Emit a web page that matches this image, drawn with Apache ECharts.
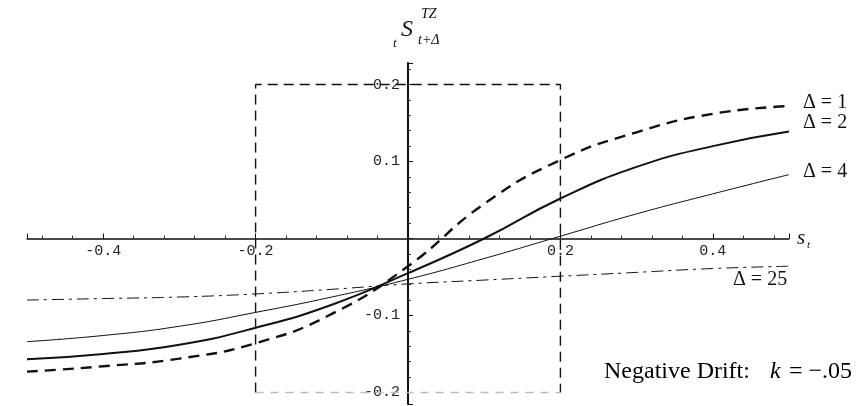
<!DOCTYPE html>
<html>
<head>
<meta charset="utf-8">
<script src="https://cdn.jsdelivr.net/npm/echarts@6/dist/echarts.min.js"></script>
<style>
  html, body { margin: 0; padding: 0; background: #fff; }
  #chart { width: 857px; height: 406px; }
</style>
</head>
<body>
<div id="chart"></div>
<script>
// State values s_t along the horizontal axis
const stateValues = [-0.5, -0.4, -0.3, -0.2, -0.1, 0, 0.1, 0.2, 0.3, 0.4, 0.5];

// Expected target-zone values for each horizon Δ
const delta1 = [-0.173, -0.166, -0.156, -0.136, -0.098, -0.036, 0.045, 0.102, 0.138, 0.162, 0.172];
const delta2 = [-0.157, -0.150, -0.138, -0.116, -0.086, -0.045, 0.000, 0.052, 0.093, 0.120, 0.139];
const delta4 = [-0.134, -0.126, -0.114, -0.096, -0.076, -0.053, -0.026, 0.003, 0.032, 0.058, 0.083];
const delta25 = [-0.080, -0.078, -0.076, -0.072, -0.066, -0.059, -0.054, -0.049, -0.044, -0.039, -0.036];

// Band limits drawn as the dashed box
const bandX = [-0.2, 0.2];
const bandY = [-0.2, 0.2];

// Tick labels shown on each axis
const xTickLabels = [-0.4, -0.2, 0.2, 0.4];
const yTickLabels = [-0.2, -0.1, 0.1, 0.2];

// Axis ranges
const xRange = [-0.5, 0.5];
const yRange = [-0.215, 0.228];

const W = 857, H = 406;
const gridBox = { left: 27, right: 68, top: 63, bottom: 2 };
const plotW = W - gridBox.left - gridBox.right;
const plotH = H - gridBox.top - gridBox.bottom;
// Shift the axes so they cross at the origin
const yAxisShift = -plotW * (0 - xRange[0]) / (xRange[1] - xRange[0]);
const xAxisShift = -plotH * (0 - yRange[0]) / (yRange[1] - yRange[0]);

const pair = (ys) => stateValues.map((x, i) => [x, ys[i]]);
const labelFor = (list) => (v) => {
  const hit = list.find((t) => Math.abs(t - v) < 1e-6);
  return hit === undefined ? '' : hit.toFixed(1);
};

const boxSides = [
  [bandX[0], bandY[0]], [bandX[0], bandY[1]],
  [bandX[1], bandY[1]], [bandX[1], bandY[0]]
];
const boxBottom = [[bandX[0], bandY[0]], [bandX[1], bandY[0]]];

const chart = echarts.init(document.getElementById('chart'));

const monoLabel = {
  fontFamily: 'Liberation Mono',
  fontSize: 15,
  color: '#222'
};

const serif = 'Liberation Serif';

chart.setOption({
  animation: false,
  backgroundColor: '#fff',
  grid: Object.assign({ containLabel: false, outerBoundsMode: 'none' }, gridBox),
  xAxis: {
    type: 'value',
    min: xRange[0],
    max: xRange[1],
    splitNumber: 5,
    offset: xAxisShift,
    axisLine: { onZero: false, lineStyle: { color: '#111', width: 1.5 } },
    axisTick: { inside: true, length: 5, lineStyle: { color: '#111', width: 1 } },
    minorTick: { show: true, splitNumber: 5, length: 3, lineStyle: { color: '#333', width: 1 } },
    splitLine: { show: false },
    axisLabel: Object.assign({ margin: 5, showMinLabel: false, showMaxLabel: false,
      formatter: labelFor(xTickLabels) }, monoLabel)
  },
  yAxis: {
    type: 'value',
    min: yRange[0],
    max: yRange[1],
    splitNumber: 4,
    offset: yAxisShift,
    axisLine: { onZero: false, lineStyle: { color: '#111', width: 2 } },
    axisTick: { inside: true, length: 5, lineStyle: { color: '#111', width: 1 } },
    minorTick: { show: true, splitNumber: 5, length: 3, lineStyle: { color: '#333', width: 1 } },
    splitLine: { show: false },
    axisLabel: Object.assign({ margin: 8, showMinLabel: false, showMaxLabel: false,
      formatter: labelFor(yTickLabels) }, monoLabel)
  },
  series: [
    {
      name: 'band', type: 'line', data: boxSides, symbol: 'none', silent: true,
      lineStyle: { color: '#111', width: 1.4, type: [10, 6] }, z: 1
    },
    {
      name: 'band floor', type: 'line', data: boxBottom, symbol: 'none', silent: true,
      lineStyle: { color: '#bbb', width: 1.4, type: [8, 7] }, z: 1
    },
    {
      name: 'Δ = 1', type: 'line', data: pair(delta1), symbol: 'none', smooth: 0.5,
      lineStyle: { color: '#111', width: 2.4, type: [11, 7] }
    },
    {
      name: 'Δ = 2', type: 'line', data: pair(delta2), symbol: 'none', smooth: 0.5,
      lineStyle: { color: '#111', width: 2 }
    },
    {
      name: 'Δ = 4', type: 'line', data: pair(delta4), symbol: 'none', smooth: 0.5,
      lineStyle: { color: '#111', width: 1 }
    },
    {
      name: 'Δ = 25', type: 'line', data: pair(delta25), symbol: 'none', smooth: 0.5,
      lineStyle: { color: '#111', width: 1, type: [12, 5, 3, 5] }
    }
  ],
  graphic: [
    // Axis titles
    { type: 'text', left: 393, top: 37, style: { text: 't', font: 'italic 13px ' + serif, fill: '#111' } },
    { type: 'text', left: 401, top: 18, style: { text: 'S', font: 'italic 24px ' + serif, fill: '#111' } },
    { type: 'text', left: 421, top: 7, style: { text: 'TZ', font: 'italic 14px ' + serif, fill: '#111' } },
    { type: 'text', left: 418, top: 33, style: { text: 't+Δ', font: 'italic 14px ' + serif, fill: '#111' } },
    { type: 'text', left: 797, top: 228, style: { text: 's', font: 'italic 21px ' + serif, fill: '#111' } },
    { type: 'text', left: 807, top: 240, style: { text: 't', font: 'italic 11px ' + serif, fill: '#111' } },
    // Curve labels
    { type: 'text', left: 803, top: 93, style: { text: 'Δ = 1', font: '20px ' + serif, fill: '#111' } },
    { type: 'text', left: 803, top: 113, style: { text: 'Δ = 2', font: '20px ' + serif, fill: '#111' } },
    { type: 'text', left: 803, top: 162, style: { text: 'Δ = 4', font: '20px ' + serif, fill: '#111' } },
    { type: 'text', left: 733, top: 270, style: { text: 'Δ = 25', font: '20px ' + serif, fill: '#111' } },
    // Drift annotation
    { type: 'text', left: 604, top: 360, style: { text: 'Negative Drift:', font: '24px ' + serif, fill: '#000' } },
    { type: 'text', left: 770, top: 360, style: { text: 'k', font: 'italic 24px ' + serif, fill: '#000' } },
    { type: 'text', left: 789, top: 360, style: { text: '= −.05', font: '24px ' + serif, fill: '#000' } }
  ]
});
</script>
</body>
</html>
